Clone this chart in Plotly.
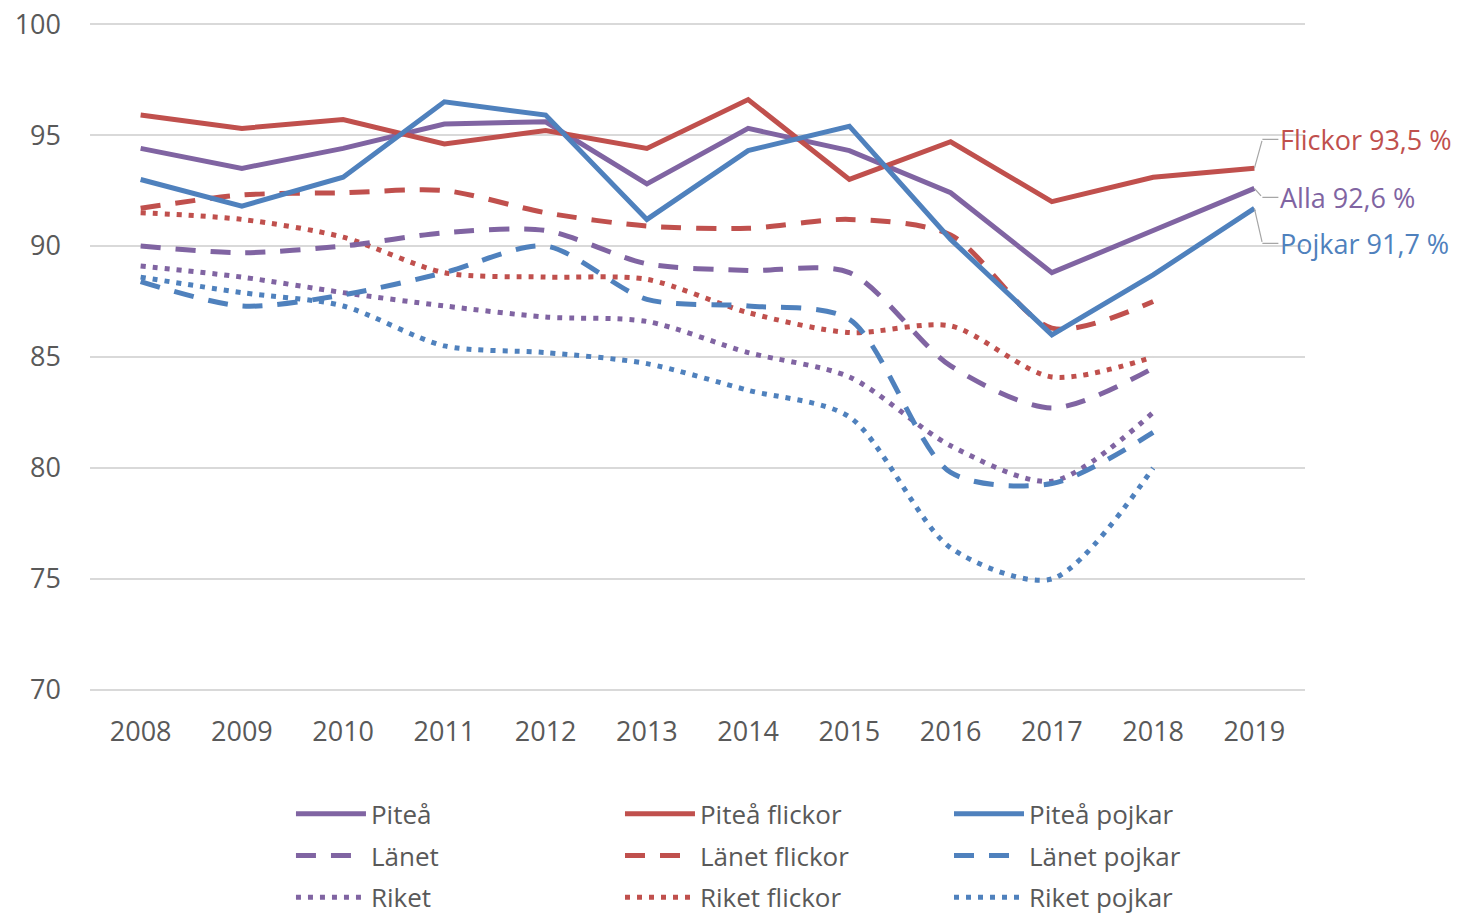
import plotly.graph_objects as go

years = [str(y) for y in range(2008, 2020)]

pitea = [94.4, 93.5, 94.4, 95.5, 95.6, 92.8, 95.3, 94.3, 92.4, 88.8, 90.7, 92.6]
pitea_flickor = [95.9, 95.3, 95.7, 94.6, 95.2, 94.4, 96.6, 93.0, 94.7, 92.0, 93.1, 93.5]
pitea_pojkar = [93.0, 91.8, 93.1, 96.5, 95.9, 91.2, 94.3, 95.4, 90.3, 86.0, 88.7, 91.7]

lanet = [90.0, 89.7, 90.0, 90.6, 90.7, 89.2, 88.9, 88.8, 84.6, 82.7, 84.5, None]
lanet_flickor = [91.7, 92.3, 92.4, 92.5, 91.5, 90.9, 90.8, 91.2, 90.5, 86.3, 87.5, None]
lanet_pojkar = [88.4, 87.3, 87.8, 88.8, 90.0, 87.6, 87.3, 86.7, 79.8, 79.3, 81.6, None]

riket = [89.1, 88.6, 87.9, 87.3, 86.8, 86.6, 85.2, 84.1, 81.0, 79.4, 82.5, None]
riket_flickor = [91.5, 91.2, 90.4, 88.8, 88.6, 88.5, 87.0, 86.1, 86.4, 84.1, 85.0, None]
riket_pojkar = [88.6, 87.9, 87.3, 85.5, 85.2, 84.7, 83.5, 82.3, 76.4, 75.0, 80.0, None]

y_ticks = [70, 75, 80, 85, 90, 95, 100]

PURPLE = "#8064A2"
RED = "#C0504D"
BLUE = "#4F81BD"
TEXT = "#595959"
LEADER = "#A6A6A6"
FONT = "Open Sans"

series = [
    ("Piteå", pitea, PURPLE, "solid", "legend"),
    ("Piteå flickor", pitea_flickor, RED, "solid", "legend2"),
    ("Piteå pojkar", pitea_pojkar, BLUE, "solid", "legend3"),
    ("Länet", lanet, PURPLE, "dash", "legend"),
    ("Länet flickor", lanet_flickor, RED, "dash", "legend2"),
    ("Länet pojkar", lanet_pojkar, BLUE, "dash", "legend3"),
    ("Riket", riket, PURPLE, "dot", "legend"),
    ("Riket flickor", riket_flickor, RED, "dot", "legend2"),
    ("Riket pojkar", riket_pojkar, BLUE, "dot", "legend3"),
]

dash_map = {"solid": "solid", "dash": "20px,15px", "dot": "5px,7px"}

fig = go.Figure()
order = [6, 7, 8, 3, 4, 5, 0, 1, 2]
for i in order:
    name, vals, col, style, leg = series[i]
    shape = "linear" if style == "solid" else "spline"
    fig.add_trace(go.Scatter(
        x=years, y=vals, name=name, mode="lines",
        line=dict(color=col, width=5, dash=dash_map[style], shape=shape, smoothing=0.8),
        legend=leg, legendgroup=name, legendrank=i,
        connectgaps=False,
    ))

last = len(years) - 1
labels = [
    ("Flickor " + f"{pitea_flickor[-1]:.1f}".replace(".", ",") + " %", pitea_flickor[-1], RED, -29),
    ("Alla " + f"{pitea[-1]:.1f}".replace(".", ",") + " %", pitea[-1], PURPLE, 9),
    ("Pojkar " + f"{pitea_pojkar[-1]:.1f}".replace(".", ",") + " %", pitea_pojkar[-1], BLUE, 35),
]
for txt, val, col, ay in labels:
    # diagonal part of the elbow leader line
    fig.add_annotation(
        x=last, y=val, xref="x", yref="y", text="",
        showarrow=True, arrowhead=0, arrowwidth=1.2, arrowcolor=LEADER,
        ax=8, ay=ay,
    )
    # horizontal part + label text
    fig.add_annotation(
        x=last, y=val, xref="x", yref="y", text=txt,
        xshift=8, yshift=-ay,
        showarrow=True, arrowhead=0, arrowwidth=1.2, arrowcolor=LEADER,
        ax=16, ay=0,
        xanchor="left", yanchor="middle",
        font=dict(family=FONT, size=27, color=col),
    )

legend_common = dict(
    orientation="v", yanchor="top", xanchor="left",
    font=dict(family=FONT, size=26, color=TEXT),
    itemwidth=70, tracegroupgap=5, bgcolor="rgba(0,0,0,0)",
    itemclick=False, itemdoubleclick=False,
)

# figure is taller than the window so the bottom legend row fits without margin push
fig.update_layout(
    width=1457, height=940,
    paper_bgcolor="white", plot_bgcolor="white",
    margin=dict(l=82, r=160, t=15, b=257),
    font=dict(family=FONT, color=TEXT),
    xaxis=dict(
        type="category", range=[-0.5, 11.5], automargin=False,
        showgrid=False, zeroline=False, showline=False, ticks="",
        tickfont=dict(family=FONT, size=27, color=TEXT),
        ticklabelstandoff=22,
    ),
    yaxis=dict(
        range=[69.95, 100.05], tickvals=y_ticks, showgrid=True, gridcolor="#D9D9D9", gridwidth=1.5,
        zeroline=False, showline=False, ticks="", automargin=False,
        tickfont=dict(family=FONT, size=27, color=TEXT),
        ticklabelstandoff=28, ticklabeloverflow="allow",
    ),
    legend=dict(x=0.1654, y=-0.1487, **legend_common),
    legend2=dict(x=0.4362, y=-0.1487, **legend_common),
    legend3=dict(x=0.7070, y=-0.1487, **legend_common),
)

fig.write_html("out.html")
